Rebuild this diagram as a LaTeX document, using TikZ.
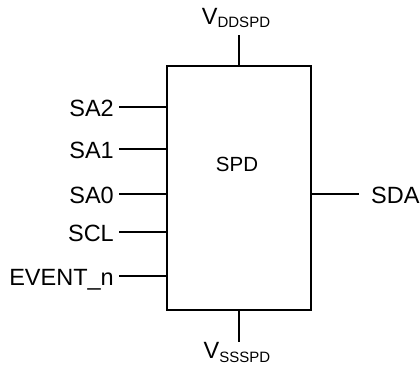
\documentclass[tikz,border=0pt]{standalone}
\usepackage{fontspec}
\setmainfont{Liberation Sans}
\begin{document}
\begin{tikzpicture}[x=1pt,y=-1pt,
        chip/.style={draw,line width=2pt,minimum width=144pt,minimum height=244pt,inner sep=0pt},
        pinlabel/.style={font=\fontsize{23.5}{26}\selectfont,text height=18pt,text depth=0pt,inner xsep=5pt,inner ysep=0pt},
        supply/.style={font=\fontsize{23.5}{26}\selectfont,inner sep=0pt},
        pinwire/.style={line width=1.9pt}]
        \useasboundingbox (0,0) rectangle (420,367);
        \node[chip] (spd) at (239,188) {};
        \node[font=\fontsize{20.5}{24}\selectfont] (spdname) at (237,164) {SPD};
        \node[pinlabel,anchor=east] (sa2) at (119,107) {SA2};
        \node[pinlabel,anchor=east] (sa1) at (119,149) {SA1};
        \node[pinlabel,anchor=east] (sa0) at (119,194) {SA0};
        \node[pinlabel,anchor=east] (scl) at (119,232) {SCL};
        \node[pinlabel,anchor=east] (event) at (119,276) {EVENT\_n};
        \node[pinlabel,anchor=west,inner xsep=12pt] (sda) at (359,194) {SDA};
        \node[supply,anchor=base] (vdd) at (236,24) {V\raisebox{-3pt}{\fontsize{15}{15}\selectfont DDSPD}};
        \node[supply,anchor=base] (vss) at (237,358) {V\raisebox{-4pt}{\fontsize{15}{15}\selectfont SSSPD}};
        \coordinate (vddend) at (239,35);
        \coordinate (vssend) at (239,342);
        \draw[pinwire] (sa2.east) -- (sa2.east -| spd.west);
        \draw[pinwire] (sa1.east) -- (sa1.east -| spd.west);
        \draw[pinwire] (sa0.east) -- (sa0.east -| spd.west);
        \draw[pinwire] (scl.east) -- (scl.east -| spd.west);
        \draw[pinwire] (event.east) -- (event.east -| spd.west);
        \draw[pinwire] (sda.west -| spd.east) -- (sda.west);
        \draw[pinwire] (spd.north) -- (vddend);
        \draw[pinwire] (spd.south) -- (vssend);
\end{tikzpicture}
\end{document}
